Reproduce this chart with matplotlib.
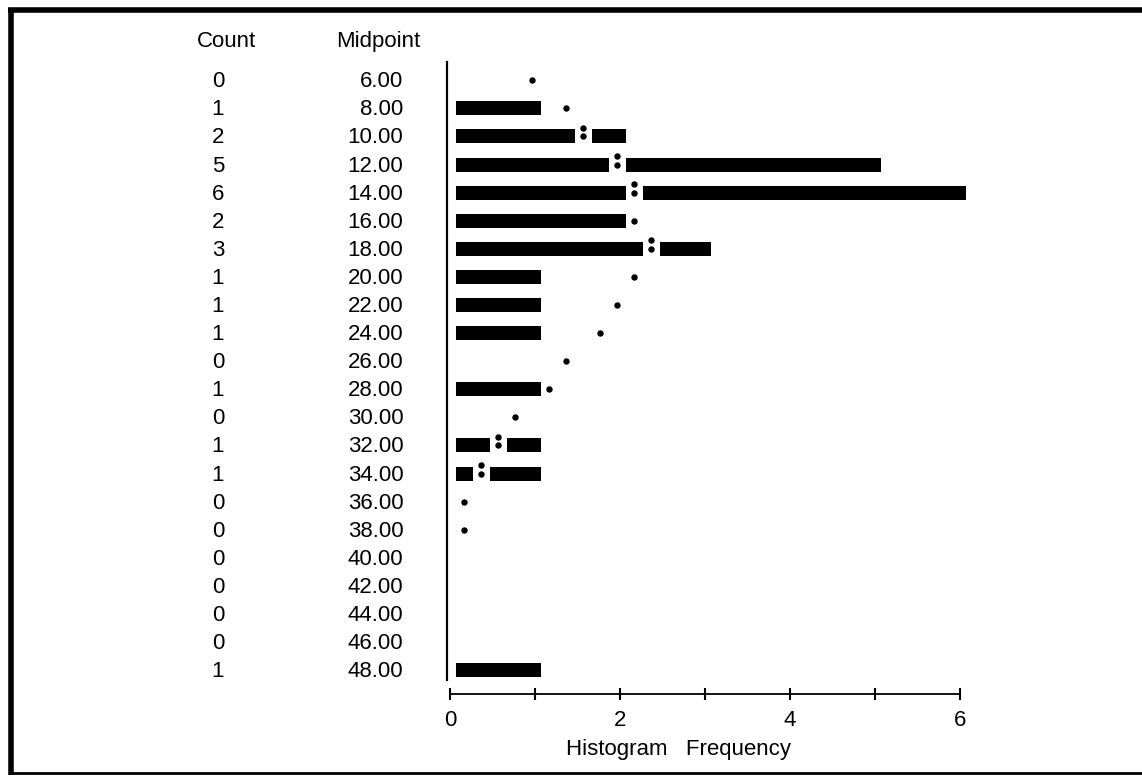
import numpy as np
import matplotlib
matplotlib.use("Agg")
import matplotlib.pyplot as plt
from matplotlib.lines import Line2D

plt.rcParams['font.family'] = ['Liberation Sans', 'DejaVu Sans']

# histogram rows (SPSS style listing)
midpoints = [6, 8, 10, 12, 14, 16, 18, 20, 22, 24, 26, 28, 30, 32, 34, 36, 38, 40, 42, 44, 46, 48]
counts = [0, 1, 2, 5, 6, 2, 3, 1, 1, 1, 0, 1, 0, 1, 1, 0, 0, 0, 0, 0, 0, 1]
# normal curve position for each row (nan = not shown)
curve = [0.96, 1.36, 1.57, 1.97, 2.17, 2.17, 2.37, 2.17, 1.97, 1.77, 1.37, 1.17,
         0.77, 0.57, 0.37, 0.17, 0.17, np.nan, np.nan, np.nan, np.nan, np.nan]
xtick_vals = [0, 1, 2, 3, 4, 5, 6]
xtick_labels = ['0', '', '2', '', '4', '', '6']

W, H = 1142, 778
fig = plt.figure(figsize=(W / 100, H / 100), dpi=100)
ax = fig.add_axes([450 / W, 1 - 680 / H, 510 / W, (680 - 62) / H])

start = 0.075
gap = 0.1
bar_h = 0.5
fs = 16

for i, (c, m) in enumerate(zip(counts, curve)):
    end = c + 0.07
    if c > 0:
        if not np.isnan(m) and m < c:
            ax.barh(i, m - gap - start, left=start, height=bar_h, color='black', clip_on=False)
            ax.barh(i, end - (m + gap), left=m + gap, height=bar_h, color='black', clip_on=False)
            ax.plot([m, m], [i - 0.3, i], 'o', color='black', ms=3.6)
        else:
            ax.barh(i, end - start, left=start, height=bar_h, color='black', clip_on=False)
            if not np.isnan(m):
                ax.plot(m, i, 'o', color='black', ms=3.6)
    elif not np.isnan(m):
        ax.plot(m, i, 'o', color='black', ms=3.6)

    ax.text(-2.73, i + 0.25, str(c), ha='center', va='baseline', fontsize=fs, clip_on=False)
    ax.text(-0.55, i + 0.25, '%.2f' % midpoints[i],
            ha='right', va='baseline', fontsize=fs, clip_on=False)

ax.text(-2.63, -1.17, 'Count', ha='center', va='baseline', fontsize=fs, clip_on=False)
ax.text(-0.85, -1.17, 'Midpoint', ha='center', va='baseline', fontsize=fs, clip_on=False)

ax.set_xlim(0, 6)
ax.set_ylim(len(midpoints) - 0.65, -0.65)
ax.spines['top'].set_visible(False)
ax.spines['right'].set_visible(False)
ax.spines['left'].set_position(('data', -0.035))
ax.spines['left'].set_linewidth(1.6)
ax.spines['bottom'].set_position(('outward', 10))
ax.spines['bottom'].set_linewidth(1.3)
ax.set_yticks([])
ax.set_xticks(xtick_vals)
ax.set_xticklabels(xtick_labels)
ax.tick_params(axis='x', direction='inout', length=9, width=1.5, pad=7, labelsize=fs)

fig.text(679 / W, 1 - 749 / H, 'Histogram   Frequency', ha='center', va='center', fontsize=fs)

# frame around the printout
def px_line(xs, ys, lw):
    fig.add_artist(Line2D([x / W for x in xs], [1 - y / H for y in ys],
                          transform=fig.transFigure, color='black', lw=lw,
                          solid_capstyle='butt'))

px_line([8, W], [10, 10], 4)
px_line([11, 11], [8, 775], 4)
px_line([9, W], [773, 773], 2)

fig.savefig('out.png', dpi=100)
